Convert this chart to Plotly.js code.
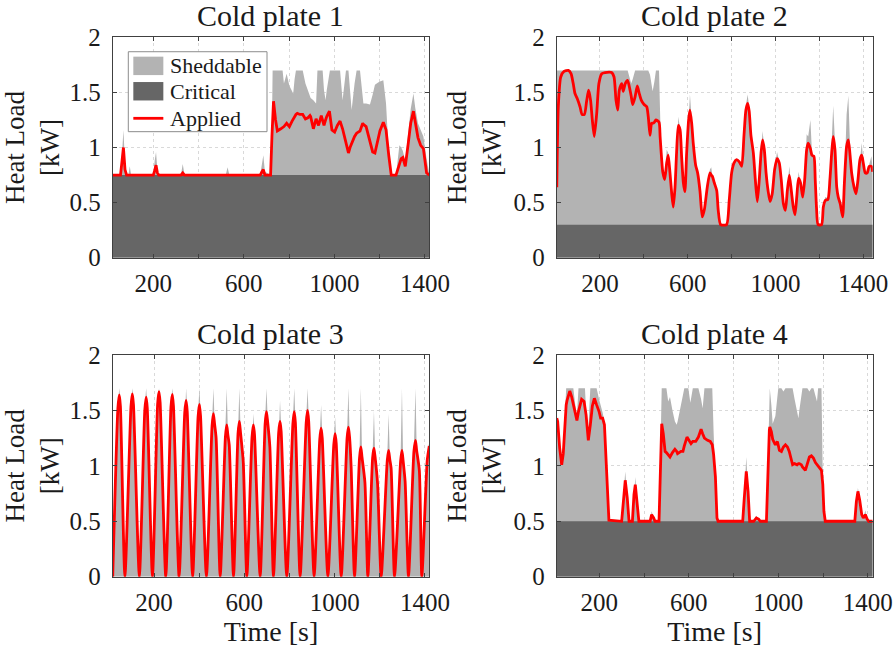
<!DOCTYPE html>
<html>
<head>
<meta charset="utf-8">
<script src="https://cdn.plot.ly/plotly-3.0.1.min.js"></script>
<style>html,body{margin:0;padding:0;background:#fff;}#chart{width:896px;height:649px;}</style>
</head>
<body>
<div id="chart"></div>
<script>
// ---------- Data ----------
const panelTitles = ['Cold plate 1', 'Cold plate 2', 'Cold plate 3', 'Cold plate 4'];
const seriesNames = ['Sheddable', 'Critical', 'Applied'];
const timeTicks = [200, 400, 600, 800, 1000, 1200, 1400];
const timeTickText = ['200', '', '600', '', '1000', '', '1400'];
const loadTicks = [0, 0.5, 1, 1.5, 2];
const loadTickText = ['0', '0.5', '1', '1.5', '2'];

// Cold plate 1
const p1_critical = 0.75;
const p1_time = [21,55,62,68,75,82,90,96,102,200,206,212,218,224,322,330,338,520,528,536,672,680,686,693,718,724,727,731,740,748,763,771,777,789,801,813,818,824,830,836,848,860,872,883,892,895,907,919,925,930,942,948,954,961,966,978,980,989,1001,1013,1025,1036,1048,1051,1062,1069,1076,1089,1098,1113,1125,1128,1140,1157,1169,1179,1193,1201,1216,1228,1240,1251,1272,1280,1287,1295,1302,1313,1325,1337,1349,1357,1369,1381,1393,1407,1419];
const p1_total = [0.75,0.75,0.95,1.16,0.86,0.75,0.75,0.83,0.75,0.75,0.88,0.96,0.80,0.75,0.75,0.85,0.75,0.75,0.82,0.75,0.75,0.86,0.93,0.78,0.75,1.20,1.70,1.70,1.70,1.70,1.70,1.70,1.58,1.67,1.56,1.50,1.49,1.62,1.70,1.70,1.70,1.70,1.58,1.51,1.46,1.45,1.43,1.40,1.70,1.70,1.70,1.70,1.52,1.43,1.52,1.68,1.70,1.70,1.70,1.70,1.70,1.43,1.64,1.70,1.70,1.52,1.34,1.58,1.70,1.70,1.45,1.40,1.40,1.39,1.48,1.57,1.59,1.60,1.61,1.40,0.95,0.76,0.75,0.90,1.02,1.00,0.97,0.88,1.15,1.35,1.49,1.36,1.22,1.15,1.10,0.90,0.76];
const p1_applied = [0.75,0.75,0.88,1.00,0.80,0.75,0.75,0.75,0.75,0.75,0.79,0.84,0.77,0.75,0.75,0.77,0.75,0.75,0.75,0.75,0.75,0.78,0.80,0.75,0.75,1.10,1.30,1.42,1.25,1.15,1.17,1.18,1.19,1.22,1.19,1.24,1.26,1.28,1.30,1.31,1.30,1.30,1.26,1.27,1.29,1.28,1.17,1.26,1.23,1.20,1.29,1.24,1.20,1.25,1.28,1.33,1.30,1.16,1.14,1.20,1.24,1.17,1.07,1.04,0.95,1.00,1.04,1.10,1.13,1.15,1.22,1.21,1.19,1.04,0.96,0.95,1.07,1.15,1.23,1.16,0.93,0.75,0.75,0.80,0.86,0.90,0.91,0.83,1.02,1.22,1.33,1.23,1.09,1.02,0.99,0.77,0.75];

// Cold plate 2
const p2_critical = 0.3;
const p2_time = [3,10,21,36,56,68,78,86,97,109,118,129,139,148,157,165,174,185,195,208,223,253,264,273,281,288,299,306,315,326,337,342,349,360,370,379,388,401,413,420,428,435,440,448,455,469,474,478,486,495,504,511,519,527,534,542,549,557,565,572,580,587,595,604,610,618,625,636,645,656,666,676,689,701,707,712,721,732,739,750,777,789,800,811,823,835,846,856,865,873,880,888,899,908,917,926,934,941,949,957,966,975,985,996,1007,1017,1026,1036,1045,1054,1063,1072,1081,1089,1098,1105,1114,1124,1133,1142,1149,1159,1166,1175,1181,1187,1194,1210,1218,1227,1239,1248,1256,1263,1271,1279,1286,1295,1306,1314,1324,1332,1339,1347,1358,1367,1376,1385,1393,1400,1409,1418,1427,1437,1443];
const p2_total = [1.70,1.70,1.70,1.70,1.70,1.70,1.70,1.70,1.70,1.70,1.70,1.70,1.70,1.70,1.70,1.70,1.70,1.70,1.70,1.70,1.70,1.70,1.70,1.70,1.70,1.70,1.70,1.70,1.70,1.70,1.62,1.58,1.62,1.70,1.70,1.70,1.70,1.70,1.70,1.70,1.66,1.55,1.51,1.60,1.70,1.70,1.40,1.00,0.80,0.72,0.98,0.95,0.78,0.59,0.47,0.65,0.96,1.28,1.17,0.92,0.68,0.60,0.95,1.30,1.48,1.25,1.05,0.85,0.77,0.60,0.37,0.45,0.65,0.80,0.82,0.75,0.68,0.62,0.44,0.30,0.30,0.53,0.77,0.87,0.89,0.88,0.84,1.12,1.38,1.48,1.36,1.12,0.95,0.71,0.51,0.71,0.98,1.15,1.00,0.77,0.62,0.51,0.59,0.82,0.96,0.87,0.71,0.50,0.44,0.62,0.83,0.62,0.47,0.39,0.60,0.78,0.68,0.56,0.71,1.12,1.10,1.25,0.96,0.92,0.71,0.45,0.30,0.30,0.47,0.55,0.54,0.72,1.05,1.38,1.05,0.65,0.56,0.50,0.38,0.68,1.30,1.47,1.05,0.78,0.65,0.58,0.71,0.92,1.04,0.87,0.77,0.78,0.86,0.92,0.80];
const p2_applied = [0.64,1.37,1.64,1.69,1.70,1.67,1.58,1.49,1.44,1.37,1.30,1.30,1.42,1.52,1.43,1.25,1.10,1.31,1.58,1.67,1.68,1.68,1.64,1.43,1.34,1.52,1.58,1.51,1.58,1.61,1.52,1.47,1.39,1.46,1.56,1.49,1.43,1.39,1.37,1.28,1.11,1.22,1.22,1.23,1.25,1.23,1.10,0.98,0.78,0.71,0.86,0.93,0.77,0.58,0.46,0.64,0.95,1.20,1.16,0.92,0.68,0.60,0.95,1.25,1.34,1.22,1.04,0.84,0.77,0.60,0.37,0.44,0.64,0.77,0.75,0.74,0.68,0.61,0.43,0.30,0.30,0.52,0.77,0.86,0.89,0.87,0.83,1.10,1.34,1.40,1.33,1.11,0.95,0.71,0.51,0.71,0.95,1.07,0.98,0.77,0.61,0.51,0.58,0.80,0.90,0.86,0.71,0.49,0.43,0.61,0.75,0.61,0.46,0.39,0.58,0.72,0.68,0.55,0.71,0.98,1.04,0.99,0.93,0.92,0.71,0.45,0.30,0.30,0.46,0.52,0.53,0.71,0.95,1.10,0.98,0.64,0.55,0.49,0.37,0.68,1.01,1.07,0.95,0.77,0.64,0.58,0.71,0.89,0.93,0.86,0.77,0.77,0.83,0.83,0.78];

// Cold plate 3
const p3_critical = 0;
const p3_time = [17,40,46,51,71,98,104,109,135,159,165,170,193,216,222,227,252,275,281,286,311,336,342,347,371,395,401,406,432,457,463,468,475,493,516,522,527,533,552,572,578,583,595,611,634,640,645,670,692,698,703,713,729,752,758,763,788,815,821,826,847,874,880,885,909,934,940,945,970,996,1002,1007,1029,1055,1061,1066,1073,1088,1110,1116,1121,1134,1147,1168,1174,1179,1190,1206,1233,1239,1244,1250,1265,1292,1298,1303,1312,1327,1351,1358,1363,1375,1386,1410,1419];
const p3_total = [0,1.56,1.70,1.58,0,1.58,1.70,1.59,0,1.54,1.70,1.56,0,1.60,1.70,1.61,0,1.57,1.70,1.58,0,1.52,1.70,1.53,0,1.48,1.70,1.49,0,1.40,1.70,1.42,1.28,0,1.30,1.70,1.32,1.22,0,1.33,1.70,1.34,1.07,0,1.30,1.47,1.32,0,1.42,1.70,1.44,1.20,0,1.34,1.59,1.35,0,1.42,1.70,1.43,0,1.43,1.70,1.44,0,1.28,1.55,1.29,0,1.23,1.44,1.24,0,1.29,1.70,1.30,1.02,0,1.11,1.70,1.12,0.88,0,1.11,1.50,1.12,0.87,0,1.09,1.47,1.10,1.01,0,1.08,1.70,1.09,0.89,0,1.17,1.70,1.18,0.99,0,1.09,1.22];
const p3_applied = [0,1.52,1.64,1.54,0,1.54,1.65,1.55,0,1.50,1.62,1.52,0,1.56,1.67,1.57,0,1.53,1.645,1.54,0,1.48,1.59,1.49,0,1.44,1.555,1.45,0,1.36,1.47,1.38,1.25,0,1.26,1.37,1.28,1.19,0,1.29,1.40,1.30,1.04,0,1.26,1.37,1.28,0,1.38,1.49,1.40,1.17,0,1.30,1.40,1.31,0,1.38,1.49,1.39,0,1.39,1.50,1.40,0,1.24,1.34,1.25,0,1.19,1.29,1.20,0,1.25,1.35,1.26,0.99,0,1.07,1.17,1.08,0.85,0,1.07,1.16,1.08,0.84,0,1.05,1.14,1.06,0.98,0,1.04,1.14,1.05,0.86,0,1.13,1.23,1.14,0.96,0,1.05,1.18];

// Cold plate 4
const p4_critical = 0.5;
const p4_time = [10,14,23,32,39,47,52,56,68,77,84,92,100,107,111,121,132,136,141,151,156,160,169,178,188,199,206,215,223,228,236,243,300,307,316,325,333,348,355,361,369,377,427,434,443,449,467,473,476,479,486,494,500,508,516,527,538,546,550,565,574,580,592,598,607,610,618,631,643,655,662,670,684,696,705,711,719,726,731,841,848,857,865,872,890,902,912,920,947,954,960,962,969,975,987,996,1000,1005,1014,1023,1032,1041,1049,1058,1064,1073,1084,1090,1094,1103,1108,1121,1130,1139,1148,1157,1166,1173,1178,1190,1193,1199,1204,1210,1342,1349,1356,1364,1373,1380,1389,1397,1404,1422];
const p4_total = [1.44,1.41,1.17,1.03,1.14,1.45,1.70,1.70,1.70,1.70,1.70,1.56,1.45,1.70,1.70,1.70,1.70,1.70,1.50,1.30,1.55,1.70,1.70,1.70,1.70,1.60,1.55,1.48,1.40,1.17,0.80,0.51,0.50,0.68,0.95,0.72,0.50,0.50,0.76,0.90,0.69,0.50,0.50,0.59,0.53,0.50,0.50,1.20,1.70,1.70,1.70,1.70,1.70,1.58,1.62,1.50,1.40,1.37,1.40,1.55,1.66,1.70,1.70,1.70,1.57,1.60,1.70,1.70,1.70,1.60,1.52,1.70,1.70,1.70,1.70,1.30,0.92,0.53,0.50,0.50,0.74,1.08,0.79,0.50,0.50,0.55,0.52,0.50,0.50,1.10,1.70,1.70,1.55,1.38,1.45,1.62,1.70,1.70,1.70,1.67,1.70,1.70,1.70,1.70,1.70,1.60,1.47,1.43,1.50,1.65,1.70,1.70,1.70,1.67,1.70,1.70,1.62,1.58,1.70,1.70,1.70,0.88,0.60,0.50,0.50,0.70,0.80,0.70,0.56,0.53,0.60,0.52,0.50,0.50];
const p4_applied = [1.43,1.40,1.16,1.01,1.11,1.43,1.55,1.59,1.675,1.62,1.55,1.47,1.41,1.49,1.53,1.60,1.58,1.53,1.46,1.23,1.30,1.37,1.54,1.61,1.55,1.49,1.43,1.43,1.37,1.16,0.80,0.51,0.50,0.65,0.87,0.71,0.50,0.50,0.74,0.83,0.68,0.50,0.50,0.56,0.53,0.50,0.50,1.07,1.25,1.38,1.29,1.13,1.12,1.10,1.08,1.12,1.15,1.13,1.11,1.13,1.13,1.18,1.26,1.24,1.21,1.20,1.22,1.22,1.26,1.33,1.29,1.25,1.23,1.22,1.19,1.10,0.90,0.53,0.50,0.50,0.71,0.95,0.77,0.50,0.50,0.53,0.52,0.50,0.50,1.04,1.32,1.35,1.31,1.24,1.19,1.22,1.19,1.14,1.13,1.17,1.19,1.17,1.13,1.07,1.01,1.02,1.01,1.02,1.02,1.01,0.99,0.96,1.02,1.08,1.09,1.07,1.03,1.01,1.00,0.97,0.96,0.83,0.59,0.50,0.50,0.68,0.77,0.69,0.56,0.53,0.56,0.52,0.50,0.50];

// ---------- Styling ----------
const FONT = 'Liberation Serif';
const TXT = '#1a1a1a';
const SHED_COLOR = '#b3b3b3';
const CRIT_COLOR = '#666666';
const APPLIED_COLOR = '#ff0000';
const AXIS_COLOR = '#404040';
const GRID_COLOR = '#d9d9d9';

const panels = [
  {t: p1_time, total: p1_total, applied: p1_applied, crit: p1_critical, xd: [0.1258, 0.4791], yd: [0.6029, 0.9425], xr: [20.7, 1419], smooth: false},
  {t: p2_time, total: p2_total, applied: p2_applied, crit: p2_critical, xd: [0.6213, 0.9740], yd: [0.6029, 0.9425], xr: [2.6, 1443], smooth: true},
  {t: p3_time, total: p3_total, applied: p3_applied, crit: p3_critical, xd: [0.1258, 0.4791], yd: [0.1114, 0.4530], xr: [17, 1419], smooth: true},
  {t: p4_time, total: p4_total, applied: p4_applied, crit: p4_critical, xd: [0.6213, 0.9740], yd: [0.1114, 0.4530], xr: [9.6, 1422], smooth: false}
];

const data = [];
const layout = {
  width: 896, height: 649,
  margin: {l: 0, r: 0, t: 0, b: 0},
  paper_bgcolor: '#ffffff', plot_bgcolor: '#ffffff',
  font: {family: FONT, color: TXT, size: 22},
  showlegend: false,
  annotations: [],
  shapes: []
};

panels.forEach((p, i) => {
  const n = i + 1;
  const xa = n === 1 ? 'x' : 'x' + n;
  const ya = n === 1 ? 'y' : 'y' + n;
  data.push({
    type: 'scatter', mode: 'lines', name: seriesNames[0], x: p.t, y: p.total,
    xaxis: xa, yaxis: ya, fill: 'tozeroy', fillcolor: SHED_COLOR,
    line: {width: 0, color: SHED_COLOR}, hoverinfo: 'skip'
  });
  data.push({
    type: 'scatter', mode: 'lines', name: seriesNames[1], x: p.t, y: p.t.map(() => p.crit),
    xaxis: xa, yaxis: ya, fill: 'tozeroy', fillcolor: CRIT_COLOR,
    line: {width: 0, color: CRIT_COLOR}, hoverinfo: 'skip'
  });
  data.push({
    type: 'scatter', mode: 'lines', name: seriesNames[2], x: p.t, y: p.applied,
    xaxis: xa, yaxis: ya,
    line: {width: 2.8, color: APPLIED_COLOR, shape: p.smooth ? 'spline' : 'linear', smoothing: 0.6}
  });

  const bottomRow = n >= 3;
  layout[n === 1 ? 'xaxis' : 'xaxis' + n] = {
    domain: p.xd, anchor: ya, range: p.xr,
    tickmode: 'array', tickvals: timeTicks, ticktext: timeTickText,
    ticks: 'inside', ticklen: 4, tickcolor: AXIS_COLOR, tickwidth: 1,
    showline: true, linecolor: AXIS_COLOR, linewidth: 1, mirror: 'ticks',
    showgrid: true, gridcolor: GRID_COLOR, griddash: 'dot', gridwidth: 1, zeroline: false,
    tickfont: {family: FONT, size: 25, color: TXT}, ticklabelstandoff: 3,
    title: bottomRow ? {text: 'Time [s]', font: {family: FONT, size: 28, color: TXT}, standoff: 0} : {text: ''}
  };
  layout[n === 1 ? 'yaxis' : 'yaxis' + n] = {
    domain: p.yd, anchor: xa, range: [0, 2],
    tickmode: 'array', tickvals: loadTicks, ticktext: loadTickText,
    ticks: 'inside', ticklen: 4, tickcolor: AXIS_COLOR, tickwidth: 1,
    showline: true, linecolor: AXIS_COLOR, linewidth: 1, mirror: 'ticks',
    showgrid: true, gridcolor: GRID_COLOR, griddash: 'dot', gridwidth: 1, zeroline: false,
    tickfont: {family: FONT, size: 25, color: TXT}, ticklabelstandoff: 6,
    title: {text: 'Heat Load<br>[kW]', font: {family: FONT, size: 27, color: TXT}, standoff: 3}
  };
  layout.annotations.push({
    text: panelTitles[i], xref: 'paper', yref: 'paper',
    x: (p.xd[0] + p.xd[1]) / 2, y: p.yd[1] + 0.033,
    xanchor: 'center', yanchor: 'middle', showarrow: false,
    font: {family: FONT, size: 30, color: TXT}
  });
});

// ---------- Legend box inside "Cold plate 1" ----------
const legendBox = {x0: 0.1432, x1: 0.2980, y0: 0.7971, y1: 0.9203};
const legendSwatchX = [0.1488, 0.1823];
const legendTextX = 0.1878;
const legendRowsY = [0.8985, 0.8594, 0.8177];
layout.shapes.push({type: 'rect', xref: 'paper', yref: 'paper', x0: legendBox.x0, x1: legendBox.x1, y0: legendBox.y0, y1: legendBox.y1,
  line: {color: '#8c8c8c', width: 1}, fillcolor: '#ffffff', layer: 'above'});
[SHED_COLOR, CRIT_COLOR].forEach((c, k) => {
  layout.shapes.push({type: 'rect', xref: 'paper', yref: 'paper', x0: legendSwatchX[0], x1: legendSwatchX[1],
    y0: legendRowsY[k] - 0.0142, y1: legendRowsY[k] + 0.0142, line: {width: 0}, fillcolor: c, layer: 'above'});
});
layout.shapes.push({type: 'line', xref: 'paper', yref: 'paper', x0: legendSwatchX[0], x1: legendSwatchX[1],
  y0: legendRowsY[2], y1: legendRowsY[2], line: {color: APPLIED_COLOR, width: 2.8}, layer: 'above'});
seriesNames.forEach((s, k) => {
  layout.annotations.push({text: s, xref: 'paper', yref: 'paper', x: legendTextX, y: legendRowsY[k],
    xanchor: 'left', yanchor: 'middle', showarrow: false, font: {family: FONT, size: 22, color: TXT}});
});

Plotly.newPlot('chart', data, layout, {displayModeBar: false, staticPlot: true});
</script>
</body>
</html>
